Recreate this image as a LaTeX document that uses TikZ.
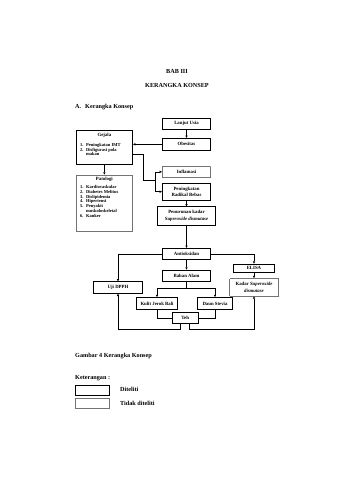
\documentclass[tikz,border=0pt]{standalone}
\usepackage{fontspec}
\setmainfont{Liberation Serif}
\usetikzlibrary{arrows.meta}
\newcommand\boxfont{\fontsize{4.8}{6.3}\selectfont\bfseries}
\newcommand\lstfont{\fontsize{4.5}{4.7}\selectfont\bfseries}
\newcommand\headfont{\fontsize{6.2}{7}\selectfont\bfseries}
\begin{document}
\begin{tikzpicture}[x=1pt,y=-1pt,
  box/.style={draw, line width=0.6pt, inner sep=0pt, align=center, font=\boxfont},
  dbox/.style={box, draw=black!55, dash pattern=on 0.4pt off 0.6pt},
  conn/.style={line width=0.6pt},
  arr/.style={conn, -{Triangle[length=2.4pt,width=2.2pt]}},
  txt/.style={inner sep=0pt, font=\boxfont},
  lst/.style={inner sep=0pt, anchor=base west, font=\lstfont},
  head/.style={inner sep=0pt, font=\headfont},
  headw/.style={head, anchor=base west}]
\fill[white] (0,0) rectangle (339,480);
\useasboundingbox (0,0) rectangle (339,480);
% headings
\node[head] (bab) at (177,71) {BAB III};
\node[head] (kk) at (177,85) {KERANGKA KONSEP};
\node[headw] (ha) at (75,108) {A.};
\node[headw] (hb) at (85,108) {Kerangka Konsep};
% boxes
\node[box, minimum width=48pt, minimum height=11pt] (lanjut) at (186.5,123.8) {Lanjut Usia};
\node[box, minimum width=48pt, minimum height=12pt] (obes) at (186.5,144.3) {Obesitas};
\node[box, minimum width=56.7pt, minimum height=34.5pt] (gejala) at (104.35,147.25) {};
\node[dbox, minimum width=56.7pt, minimum height=56.7pt] (pato) at (104.35,203.35) {};
\node[dbox, minimum width=48.3pt, minimum height=11.7pt] (infl) at (186.5,171.85) {Inflamasi};
\node[box, minimum width=48.3pt, minimum height=16.7pt] (radikal) at (186.5,191.65) {Peningkatan\\Radikal Bebas};
\node[box, minimum width=57.7pt, minimum height=18.3pt] (turun) at (186.5,215.85) {Penurunan kadar\\\textit{Superoxide dismutase}};
\node[box, minimum width=47.6pt, minimum height=11pt] (antiok) at (186.5,253.8) {Antioksidan};
\node[box, minimum width=49.4pt, minimum height=11.6pt] (dpph) at (118,287.5) {Uji DPPH};
\node[box, minimum width=41pt, minimum height=8.7pt] (elisa) at (254,268.35) {ELISA};
\node[dbox, minimum width=49pt, minimum height=17.5pt] (kadar) at (254,287.25) {Kadar \textit{Superoxide}\\\textit{dismutase}};
\node[box, minimum width=47.6pt, minimum height=11pt] (bahan) at (186.5,275.5) {Bahan Alam};
\node[box, minimum width=41pt, minimum height=11.8pt] (kulit) at (157,303.4) {Kulit Jerok Bali};
\node[box, minimum width=34.5pt, minimum height=11.8pt] (daun) at (215,303.4) {Daun Stevia};
\node[box, minimum width=26.3pt, minimum height=10.8pt] (teh) at (185.15,318.1) {Teh};
% Gejala contents
\node[txt] (gt) at (104.35,135) {Gejala};
\node[lst] (g1n) at (80,146.8) {1.};
\node[lst] (g1) at (86,146.8) {Peningkatan IMT};
\node[lst] (g2n) at (80,151.3) {2.};
\node[lst] (g2) at (86,151.3) {Disfigurasi pola};
\node[lst] (g2b) at (86,155.8) {makan};
% Patologi contents
\node[txt] (pt) at (104.35,179) {Patologi};
\node[lst] (p1n) at (80,188.8) {1.};
\node[lst] (p1) at (86,188.8) {Kardiovaskular};
\node[lst] (p2n) at (80,193.5) {2.};
\node[lst] (p2) at (86,193.5) {Diabetes Melitus};
\node[lst] (p3n) at (80,198.2) {3.};
\node[lst] (p3) at (86,198.2) {Dislipidemia};
\node[lst] (p4n) at (80,202.9) {4.};
\node[lst] (p4) at (86,202.9) {Hipertensi};
\node[lst] (p5n) at (80,207.6) {5.};
\node[lst] (p5) at (86,207.6) {Penyakit};
\node[lst] (p5b) at (86,212.3) {muskoloskeletal};
\node[lst] (p6n) at (80,217) {6.};
\node[lst] (p6) at (86,217) {Kanker};
% connectors
\draw[arr] (lanjut) -- (obes);
\draw[arr] (obes.west) -- (gejala.east |- obes.west);
\draw[arr] (gejala) -- (pato);
\coordinate (ga) at (143.5,154);
\coordinate (gb) at (143.5,180.7);
\coordinate (br) at (155.7,180.7);
\draw[conn] (gejala.east |- ga) -- (ga) -- (gb) -- (br);
\draw[arr] (br) |- (infl.west);
\draw[arr] (br) |- (radikal.west);
\draw[arr] (radikal) -- (turun);
\draw[arr] (turun) -- (antiok);
\draw[arr] (antiok.west) -| (dpph.north);
\draw[arr] (antiok.east) -| (elisa.north);
\draw[arr] (elisa) -- (kadar);
\draw[arr] (antiok) -- (bahan);
\coordinate (bj) at (186.5,288.3);
\draw[conn] (bahan.south) -- (bj);
\draw[arr] (bj) -| (kulit.north);
\draw[arr] (bj) -| (daun.north);
\draw[conn] (kulit.south) |- (teh.west);
\draw[conn] (daun.south) |- (teh.east);
\coordinate (tl) at (180.7,329.3);
\coordinate (tr) at (189.3,329.3);
\draw[arr] (teh.south -| tl) -- (tl) -| (dpph.south);
\draw[arr] (teh.south -| tr) -- (tr) -| (kadar.south);
% caption and legend
\node[headw] (cap) at (75,357.5) {Gambar 4 Kerangka Konsep};
\node[headw] (ket) at (75,379.5) {Keterangan :};
\node[box, minimum width=33.6pt, minimum height=10pt] (leg1) at (92.5,390) {};
\node[dbox, minimum width=33.6pt, minimum height=10pt] (leg2) at (92.5,403.3) {};
\node[headw] (l1) at (120,391.8) {Diteliti};
\node[headw] (l2) at (120,405.1) {Tidak diteliti};
\end{tikzpicture}
\end{document}
